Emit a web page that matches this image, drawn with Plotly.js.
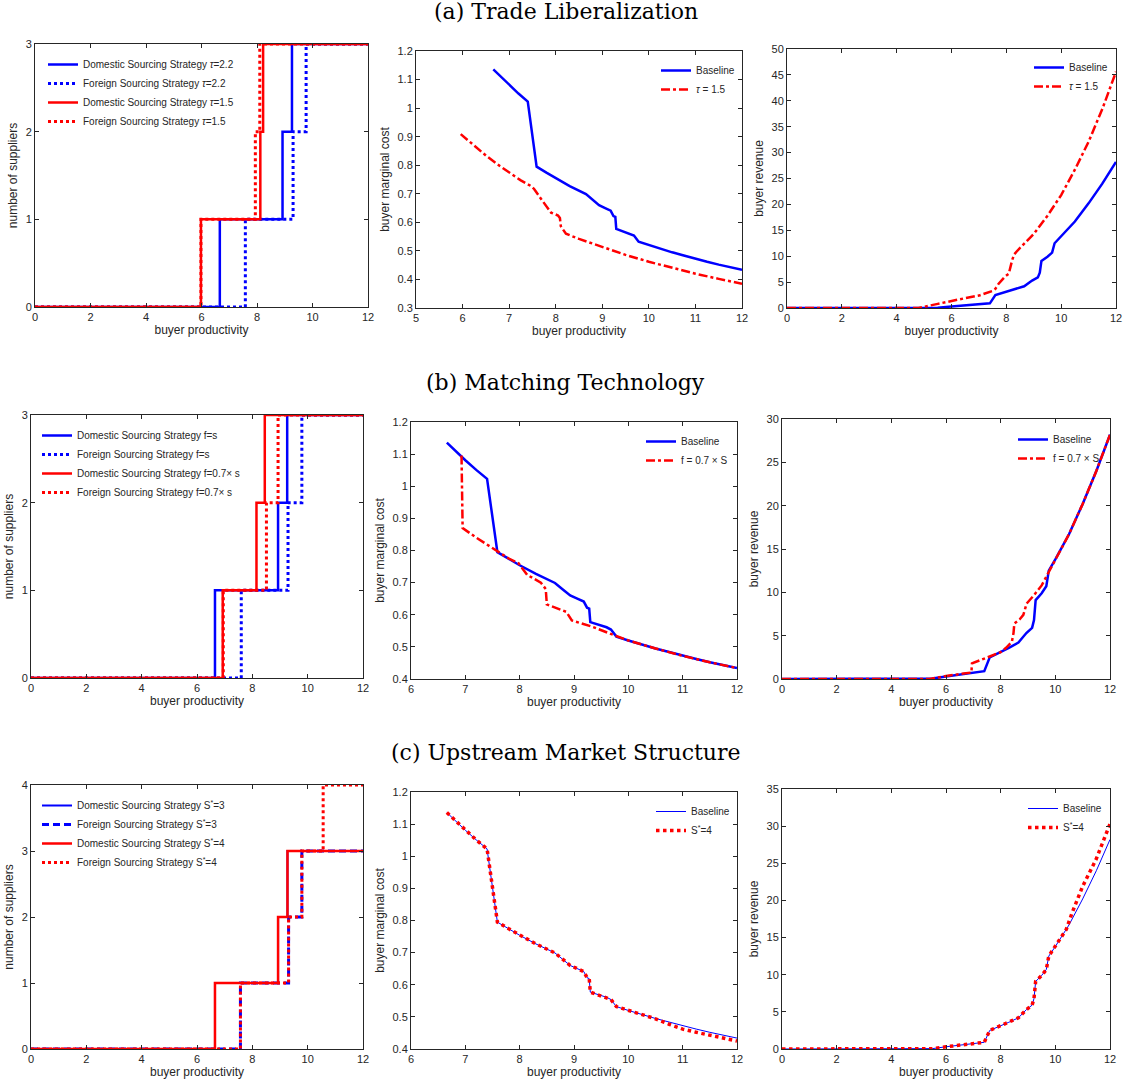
<!DOCTYPE html>
<html><head><meta charset="utf-8">
<script src="https://cdn.plot.ly/plotly-3.0.1.min.js"></script>
<style>body{margin:0;background:#fff}#chart{width:1126px;height:1086px}</style>
</head><body><div id="chart"></div>
<script>
// ---------------- DATA ----------------
// (a) Trade liberalization: number of suppliers (step functions)
const a1_domTau22_x = [0, 6.66, 8.92, 9.26, 12];
const a1_domTau22_y = [0, 1, 2, 3, 3];
const a1_forTau22_x = [0, 7.58, 9.30, 9.77, 12];
const a1_forTau22_y = [0, 1, 2, 3, 3];
const a1_domTau15_x = [0, 5.98, 8.12, 8.22, 12];
const a1_domTau15_y = [0, 1, 2, 3, 3];
const a1_forTau15_x = [0, 5.98, 7.94, 8.10, 12];
const a1_forTau15_y = [0, 1, 2, 3, 3];

// baseline buyer marginal cost
const cost_base_x = [6.66, 6.8, 7.0, 7.2, 7.40, 7.59, 7.8, 8.0, 8.3, 8.65, 8.8, 8.93, 9.05, 9.18, 9.24, 9.28, 9.30, 9.45, 9.60, 9.68, 9.78, 10.0, 10.25, 10.5, 10.75, 11.0, 11.25, 11.5, 11.75, 12.0];
const cost_base_y = [1.136, 1.113, 1.081, 1.051, 1.023, 0.795, 0.774, 0.754, 0.727, 0.699, 0.678, 0.660, 0.651, 0.641, 0.622, 0.619, 0.577, 0.569, 0.561, 0.554, 0.532, 0.520, 0.507, 0.495, 0.484, 0.472, 0.462, 0.452, 0.443, 0.434];
// tau = 1.5 marginal cost
const cost_tau15_x = [5.96, 6.2, 6.5, 6.8, 7.0, 7.25, 7.48, 7.54, 7.65, 7.78, 7.90, 8.05, 8.09, 8.11, 8.15, 8.22, 8.5, 9.0, 9.5, 10.0, 10.5, 11.0, 11.5, 12.0];
const cost_tau15_y = [0.909, 0.875, 0.834, 0.797, 0.774, 0.747, 0.726, 0.716, 0.690, 0.660, 0.634, 0.624, 0.615, 0.586, 0.575, 0.560, 0.542, 0.513, 0.486, 0.462, 0.440, 0.420, 0.402, 0.385];

// baseline buyer revenue
const rev_base_x = [0, 5.2, 5.5, 6.0, 6.5, 7.0, 7.40, 7.60, 8.0, 8.3, 8.65, 8.94, 9.15, 9.22, 9.28, 9.50, 9.67, 9.76, 10.0, 10.5, 11.0, 11.5, 12.0];
const rev_base_y = [0, 0, 0.05, 0.3, 0.5, 0.7, 0.9, 2.5, 3.1, 3.6, 4.2, 5.3, 5.9, 6.8, 9.1, 9.9, 10.7, 12.5, 13.8, 16.7, 20.2, 24.0, 28.2];
// tau = 1.5 revenue
const rev_tau15_x = [0, 4.8, 5.5, 6.0, 6.5, 7.0, 7.5, 7.6, 7.72, 7.96, 8.09, 8.21, 8.29, 8.5, 9.0, 9.5, 10.0, 10.5, 11.0, 11.5, 12.0];
const rev_tau15_y = [0, 0, 0.8, 1.4, 1.9, 2.4, 3.3, 3.7, 4.7, 6.1, 6.6, 9.2, 10.4, 11.6, 14.3, 17.8, 21.8, 26.7, 32.1, 38.4, 45.6];

// (b) Matching technology
const b1_domBase_x = [0, 6.65, 8.93, 9.26, 12];
const b1_domBase_y = [0, 1, 2, 3, 3];
const b1_forBase_x = [0, 7.60, 9.29, 9.79, 12];
const b1_forBase_y = [0, 1, 2, 3, 3];
const b1_domF07_x = [0, 6.93, 8.15, 8.45, 12];
const b1_domF07_y = [0, 1, 2, 3, 3];
const b1_forF07_x = [0, 6.95, 8.51, 8.93, 12];
const b1_forF07_y = [0, 1, 2, 3, 3];

const cost_f07_x = [6.93, 6.95, 7.2, 7.59, 7.8, 7.98, 8.14, 8.39, 8.48, 8.50, 8.70, 8.86, 8.96, 9.33, 9.76, 10.0, 10.5, 11.0, 11.5, 12.0];
const cost_f07_y = [1.096, 0.870, 0.840, 0.797, 0.775, 0.760, 0.724, 0.700, 0.680, 0.632, 0.620, 0.609, 0.582, 0.563, 0.535, 0.520, 0.495, 0.472, 0.452, 0.434];

const rev_f07_x = [0, 5.4, 6.0, 6.5, 6.93, 6.95, 7.3, 7.6, 8.0, 8.2, 8.41, 8.47, 8.50, 8.70, 8.83, 8.95, 9.2, 9.5, 9.77, 10.0, 10.5, 11.0, 11.5, 12.0];
const rev_f07_y = [0, 0, 0.35, 0.55, 0.75, 1.8, 2.2, 2.6, 3.1, 3.6, 4.3, 5.3, 6.4, 6.9, 7.4, 8.7, 9.6, 10.8, 12.4, 13.8, 16.7, 20.2, 24.0, 28.2];

// (c) Upstream market structure
const c1_domS3_x = [0, 6.65, 8.93, 9.27, 12];
const c1_domS3_y = [0, 1, 2, 3, 3];
const c1_forS3_x = [0, 7.57, 9.31, 9.79, 12];
const c1_forS3_y = [0, 1, 2, 3, 3];
const c1_domS4_x = [0, 6.65, 8.93, 9.27, 12];
const c1_domS4_y = [0, 1, 2, 3, 3];
const c1_forS4_x = [0, 7.57, 9.31, 9.79, 10.56, 12];
const c1_forS4_y = [0, 1, 2, 3, 4, 4];

const cost_S4_x = [6.66, 6.8, 7.0, 7.2, 7.40, 7.59, 7.8, 8.0, 8.3, 8.65, 8.8, 8.93, 9.05, 9.18, 9.24, 9.28, 9.30, 9.45, 9.60, 9.68, 9.78, 10.0, 10.25, 10.5, 10.75, 11.0, 11.25, 11.5, 11.75, 12.0];
const cost_S4_y = [1.136, 1.113, 1.081, 1.051, 1.023, 0.795, 0.774, 0.754, 0.727, 0.699, 0.678, 0.660, 0.651, 0.641, 0.622, 0.619, 0.577, 0.569, 0.561, 0.554, 0.532, 0.520, 0.507, 0.494, 0.477, 0.462, 0.452, 0.443, 0.434, 0.425];

const rev_S4_x = [0, 5.2, 5.5, 6.0, 6.5, 7.0, 7.40, 7.60, 8.0, 8.3, 8.65, 8.94, 9.15, 9.22, 9.28, 9.50, 9.67, 9.76, 10.0, 10.4, 10.6, 11.0, 11.5, 12.0];
const rev_S4_y = [0, 0, 0.05, 0.3, 0.5, 0.7, 0.9, 2.5, 3.1, 3.6, 4.2, 5.3, 5.9, 6.8, 9.1, 9.9, 10.7, 12.5, 13.8, 16.1, 18.2, 21.9, 25.6, 30.3];

const sectionTitles = ['(a) Trade Liberalization', '(b) Matching Technology', '(c) Upstream Market Structure'];
const xTitle = 'buyer productivity';
const yTitles = ['number of suppliers', 'buyer marginal cost', 'buyer revenue'];

// ---------------- LAYOUT ----------------
const W = 1126, H = 1086;
const BLUE = '#0000FF', RED = '#FF0000', INK = '#262626';
const FONT = 'Liberation Sans, Arial, sans-serif';

const panels = [
  {px:[35,368],  py:[44,307],  xr:[0,12], xd:2, yr:[0,3],    yd:1,   yt:0, lg:[43,50]},
  {px:[416,742], py:[51,308],  xr:[5,12], xd:1, yr:[0.3,1.2],yd:0.1, yt:1, lg:[656,56]},
  {px:[787,1116],py:[49,308],  xr:[0,12], xd:2, yr:[0,50],   yd:5,   yt:2, lg:[1029,53]},
  {px:[31,363],  py:[415,678], xr:[0,12], xd:2, yr:[0,3],    yd:1,   yt:0, lg:[37,421]},
  {px:[411,737], py:[422,679], xr:[6,12], xd:1, yr:[0.4,1.2],yd:0.1, yt:1, lg:[641,427]},
  {px:[782,1110],py:[419,679], xr:[0,12], xd:2, yr:[0,30],   yd:5,   yt:2, lg:[1013,425]},
  {px:[31,363],  py:[785,1049],xr:[0,12], xd:2, yr:[0,4],    yd:1,   yt:0, lg:[37,791]},
  {px:[411,737], py:[792,1049],xr:[6,12], xd:1, yr:[0.4,1.2],yd:0.1, yt:1, lg:[651,797]},
  {px:[782,1110],py:[789,1049],xr:[0,12], xd:2, yr:[0,35],   yd:5,   yt:2, lg:[1023,794]}
];

const layout = {
  width: W, height: H,
  margin: {l:0, r:0, t:0, b:0},
  paper_bgcolor: '#fff', plot_bgcolor: '#fff',
  font: {family: FONT, color: INK, size: 11},
  annotations: [],
  showlegend: true
};

panels.forEach((p, i) => {
  const n = i + 1;
  const xk = n === 1 ? 'xaxis' : 'xaxis' + n;
  const yk = n === 1 ? 'yaxis' : 'yaxis' + n;
  const lk = n === 1 ? 'legend' : 'legend' + n;
  const common = {
    showline: true, linecolor: INK, linewidth: 1, mirror: 'ticks',
    ticks: 'inside', ticklen: 4, tickcolor: INK, tickwidth: 1,
    showgrid: false, zeroline: false, fixedrange: true,
    tickfont: {family: FONT, size: 11, color: INK}
  };
  layout[xk] = Object.assign({}, common, {
    domain: [p.px[0]/W, p.px[1]/W], range: p.xr, dtick: p.xd, tick0: 0,
    anchor: n === 1 ? 'y' : 'y' + n,
    title: {text: xTitle, font: {family: FONT, size: 12, color: INK}, standoff: 3}
  });
  layout[yk] = Object.assign({}, common, {
    domain: [1 - p.py[1]/H, 1 - p.py[0]/H], range: p.yr, dtick: p.yd, tick0: 0,
    anchor: n === 1 ? 'x' : 'x' + n,
    title: {text: yTitles[p.yt], font: {family: FONT, size: 12, color: INK}, standoff: 5}
  });
  layout[lk] = {
    x: p.lg[0]/W, y: 1 - p.lg[1]/H, xanchor: 'left', yanchor: 'top',
    bgcolor: 'rgba(0,0,0,0)', borderwidth: 0,
    font: {family: FONT, size: 10, color: INK},
    itemwidth: 30, tracegroupgap: 0
  };
});

sectionTitles.forEach((t, k) => {
  layout.annotations.push({
    text: t, xref: 'paper', yref: 'paper', x: 566/W, y: 1 - [12, 382, 752][k]/H,
    xanchor: 'center', yanchor: 'middle', showarrow: false,
    font: {family: 'DejaVu Serif, Liberation Serif, serif', size: 22, color: '#000'}
  });
});

// ---------------- TRACES ----------------
const data = [];
function tr(n, x, y, name, color, width, dash, shape) {
  data.push({
    type: 'scatter', mode: 'lines', x: x, y: y, name: name,
    xaxis: n === 1 ? 'x' : 'x' + n, yaxis: n === 1 ? 'y' : 'y' + n,
    legend: n === 1 ? 'legend' : 'legend' + n,
    line: {color: color, width: width, dash: dash || 'solid', shape: shape || 'linear'},
    hoverinfo: 'skip'
  });
}
const tau = '<i>τ</i>';
// (a)
tr(1, a1_domTau22_x, a1_domTau22_y, 'Domestic Sourcing Strategy ' + tau + '=2.2', BLUE, 2.5, 'solid', 'hv');
tr(1, a1_forTau22_x, a1_forTau22_y, 'Foreign Sourcing Strategy ' + tau + '=2.2', BLUE, 3, 'dot', 'hv');
tr(1, a1_domTau15_x, a1_domTau15_y, 'Domestic Sourcing Strategy ' + tau + '=1.5', RED, 2.5, 'solid', 'hv');
tr(1, a1_forTau15_x, a1_forTau15_y, 'Foreign Sourcing Strategy ' + tau + '=1.5', RED, 3, 'dot', 'hv');
tr(2, cost_base_x, cost_base_y, 'Baseline', BLUE, 2.5);
tr(2, cost_tau15_x, cost_tau15_y, tau + ' = 1.5', RED, 2.5, 'dashdot');
tr(3, rev_base_x, rev_base_y, 'Baseline', BLUE, 2.5);
tr(3, rev_tau15_x, rev_tau15_y, tau + ' = 1.5', RED, 2.5, 'dashdot');
// (b)
tr(4, b1_domBase_x, b1_domBase_y, 'Domestic Sourcing Strategy f=s', BLUE, 2.5, 'solid', 'hv');
tr(4, b1_forBase_x, b1_forBase_y, 'Foreign Sourcing Strategy f=s', BLUE, 3, 'dot', 'hv');
tr(4, b1_domF07_x, b1_domF07_y, 'Domestic Sourcing Strategy f=0.7× s', RED, 2.5, 'solid', 'hv');
tr(4, b1_forF07_x, b1_forF07_y, 'Foreign Sourcing Strategy f=0.7× s', RED, 3, 'dot', 'hv');
tr(5, cost_base_x, cost_base_y, 'Baseline', BLUE, 2.5);
tr(5, cost_f07_x, cost_f07_y, 'f = 0.7 × S', RED, 2.5, 'dashdot');
tr(6, rev_base_x, rev_base_y, 'Baseline', BLUE, 2.5);
tr(6, rev_f07_x, rev_f07_y, 'f = 0.7 × S', RED, 2.5, 'dashdot');
// (c)
tr(7, c1_domS3_x, c1_domS3_y, 'Domestic Sourcing Strategy S<sup>*</sup>=3', BLUE, 2, 'solid', 'hv');
tr(7, c1_forS3_x, c1_forS3_y, 'Foreign Sourcing Strategy S<sup>*</sup>=3', BLUE, 3, '7px,4px', 'hv');
tr(7, c1_domS4_x, c1_domS4_y, 'Domestic Sourcing Strategy S<sup>*</sup>=4', RED, 2.5, 'solid', 'hv');
tr(7, c1_forS4_x, c1_forS4_y, 'Foreign Sourcing Strategy S<sup>*</sup>=4', RED, 3, 'dot', 'hv');
tr(8, cost_base_x, cost_base_y, 'Baseline', BLUE, 1);
tr(8, cost_S4_x, cost_S4_y, 'S<sup>*</sup>=4', RED, 3.5, 'dot');
tr(9, rev_base_x, rev_base_y, 'Baseline', BLUE, 1);
tr(9, rev_S4_x, rev_S4_y, 'S<sup>*</sup>=4', RED, 3.5, 'dot');

Plotly.newPlot('chart', data, layout, {staticPlot: true, displayModeBar: false});
</script></body></html>
